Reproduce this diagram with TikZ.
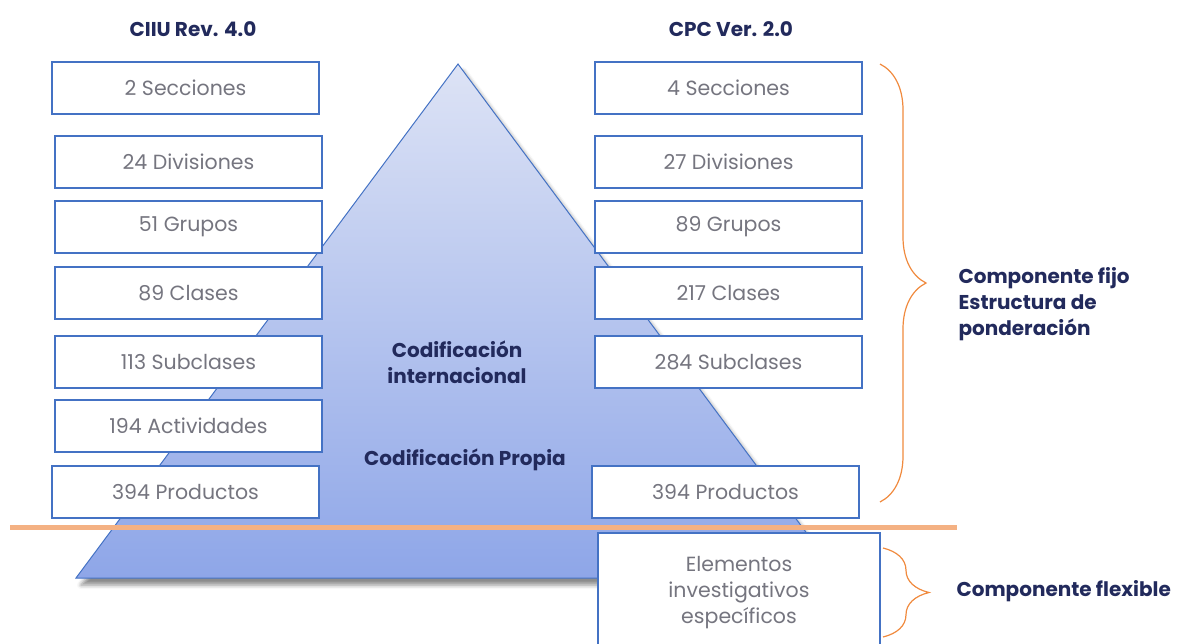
\documentclass[tikz,border=0pt]{standalone}
\usepackage{fontspec}
\setmainfont{Poppins}
\usepackage{xcolor}
\usepackage{tikz}
\usetikzlibrary{decorations.pathreplacing, shadows.blur}

\definecolor{boxblue}{HTML}{4472C4}
\definecolor{navy}{HTML}{222A5C}
\definecolor{greytext}{HTML}{75757F}
\definecolor{peach}{HTML}{F4B183}
\definecolor{bracecol}{HTML}{F08A3E}
\definecolor{pyrtop}{HTML}{DDE3F5}
\definecolor{pyrbot}{HTML}{8EA6E8}

\tikzset{
  level/.style={draw=boxblue, line width=1.8pt, fill=white, text=greytext,
    minimum width=267pt, minimum height=52pt, inner sep=0pt,
    font=\fontsize{20.5}{24}\selectfont},
  head/.style={text=navy, font=\fontsize{20}{24}\selectfont\bfseries},
  label/.style={text=navy, font=\fontsize{20}{26}\selectfont\bfseries, align=left},
  curly/.style={draw=bracecol, line width=1.2pt,
    decorate, decoration={brace, amplitude=46pt}}
}

\begin{document}
\begin{tikzpicture}[x=1pt, y=-1pt]
  \useasboundingbox (0,0) rectangle (1181,643);

  % pyramid
  \coordinate (apex) at (458,64);
  \coordinate (baseL) at (76,578);
  \coordinate (baseR) at (840,578);
  \path[top color=pyrtop, bottom color=pyrbot, draw=boxblue, line width=1pt,
        blur shadow={shadow xshift=5pt, shadow yshift=-7pt, shadow blur radius=4pt,
                     shadow opacity=45}]
    (apex) -- (baseR) -- (baseL) -- cycle;

  \node[head] (ciiu) at (193,29) {CIIU Rev. 4.0};
  \node[head] (cpc)  at (731,29) {CPC Ver. 2.0};

  % left column
  \node[level] (l1) at (185.5,88)  {2 Secciones};
  \node[level] (l2) at (188.5,162) {24 Divisiones};
  \node[level] (l3) at (188.5,227) {51 Grupos};
  \node[level] (l4) at (188.5,293) {89 Clases};
  \node[level] (l5) at (188.5,362) {113 Subclases};
  \node[level] (l6) at (188.5,426) {194 Actividades};
  \node[level] (l7) at (185.5,492) {394 Productos};

  % right column
  \node[level] (r1) at (728.5,88)  {4 Secciones};
  \node[level] (r2) at (728.5,162) {27 Divisiones};
  \node[level] (r3) at (728.5,227) {89 Grupos};
  \node[level] (r4) at (728.5,293) {217 Clases};
  \node[level] (r5) at (728.5,362) {284 Subclases};
  \node[level] (r7) at (725.5,492) {394 Productos};

  \node[head, align=center, font=\fontsize{20}{26}\selectfont\bfseries] (intl) at (457,362)
    {Codificación\\internacional};
  \node[head] (propia) at (465,460) {Codificación Propia};

  % cut line
  \coordinate (cutL) at (10,527);
  \coordinate (cutR) at (957,527);
  \draw[peach, line width=5pt] (cutL) -- (cutR);

  \node[level, minimum width=282pt, minimum height=120pt, align=center,
        font=\fontsize{20.5}{26}\selectfont] (extra) at (739,593)
    {Elementos\\investigativos\\específicos};

  % braces
  \coordinate (b1top) at (880,64);
  \coordinate (b1bot) at (880,502);
  \coordinate (b2top) at (883,548);
  \coordinate (b2bot) at (883,637);
  \draw[curly] (b1top) -- (b1bot);
  \draw[curly] (b2top) -- (b2bot);

  \node[label, anchor=west] (fijo) at (955,304)
    {Componente fijo\\Estructura de\\ponderación};
  \node[label, anchor=west] (flex) at (953,591) {Componente flexible};
\end{tikzpicture}
\end{document}
